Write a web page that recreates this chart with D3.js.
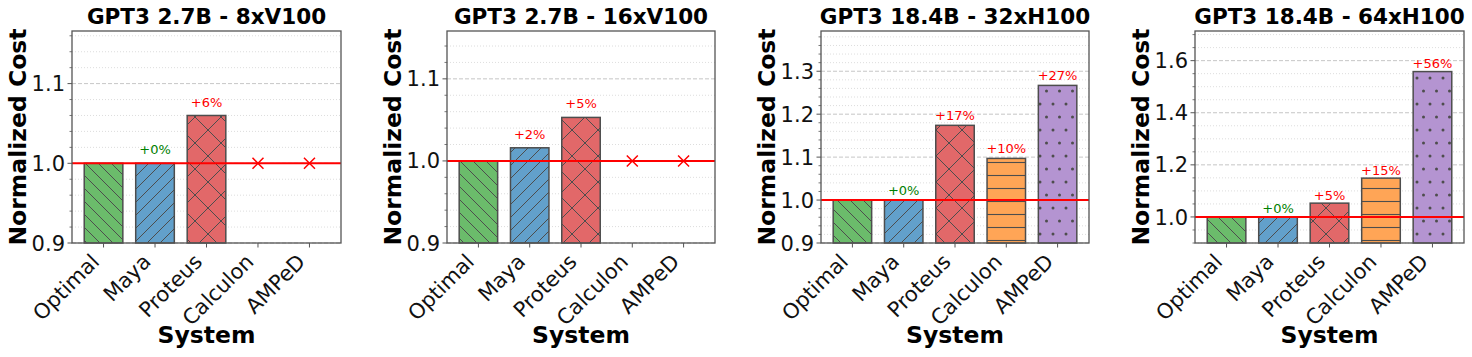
<html>
<head>
<script src="https://d3js.org/d3.v7.min.js" charset="utf-8"></script>
<style>
  body { margin: 0; background: #fff; }
  text { font-family: "DejaVu Sans", sans-serif; }
</style>
</head>
<body>
<div id="chartcontainer"></div>
<script type="text/javascript">
// data
var systems = ["Optimal", "Maya", "Proteus", "Calculon", "AMPeD"];
var titles = ["GPT3 2.7B - 8xV100", "GPT3 2.7B - 16xV100", "GPT3 18.4B - 32xH100", "GPT3 18.4B - 64xH100"];
var cost8xV100 = [1.0, 1.0, 1.06, null, null];
var cost16xV100 = [1.0, 1.016, 1.053, null, null];
var cost32xH100 = [1.0, 1.0, 1.174, 1.097, 1.267];
var cost64xH100 = [1.0, 1.0, 1.053, 1.149, 1.558];
var ticks8xV100 = [0.9, 1.0, 1.1];
var ticks16xV100 = [0.9, 1.0, 1.1];
var ticks32xH100 = [0.9, 1.0, 1.1, 1.2, 1.3];
var ticks64xH100 = [1.0, 1.2, 1.4, 1.6];
var minorStep = [0.02, 0.02, 0.02, 0.05];

var colors = ["#6bbc6b", "#62a0cb", "#e26869", "#ffa556", "#b494d1"];
var hatches = ["back", "fwd", "cross", "horiz", "dots"];

var panels = [
    {title: titles[0], values: cost8xV100, ticks: ticks8xV100, minor: minorStep[0], left: 72, right: 341},
    {title: titles[1], values: cost16xV100, ticks: ticks16xV100, minor: minorStep[1], left: 447, right: 715},
    {title: titles[2], values: cost32xH100, ticks: ticks32xH100, minor: minorStep[2], left: 821, right: 1089},
    {title: titles[3], values: cost64xH100, ticks: ticks64xH100, minor: minorStep[3], left: 1195, right: 1464}
];
var plotTop = 31, plotBottom = 243;
var edge = "#4d4d4d";

var svg = d3.select("#chartcontainer").append("svg").attr("width", 1472).attr("height", 357);
var defs = svg.append("defs");

// hatch patterns (cross hatch is twice as sparse)
var hs = 13;
function pattern(id, w, h) {
    var p = defs.append("pattern").attr("id", id).attr("patternUnits", "userSpaceOnUse")
        .attr("width", w).attr("height", h);
    return p;
}
colors.forEach(function(c, i) {
    var id = "hatch" + i;
    var p;
    if (hatches[i] == "dots") {
        p = pattern(id, hs, hs * 2);
        p.append("rect").attr("width", hs).attr("height", hs * 2).attr("fill", c);
        [[0, 0], [hs, 0], [0, hs * 2], [hs, hs * 2], [hs / 2, hs]].forEach(function(d) {
            p.append("circle").attr("cx", d[0]).attr("cy", d[1]).attr("r", 1.5).attr("fill", edge);
        });
        return;
    }
    if (hatches[i] == "horiz") {
        p = pattern(id, hs, hs);
        p.append("rect").attr("width", hs).attr("height", hs).attr("fill", c);
        p.append("line").attr("x1", 0).attr("y1", hs / 2).attr("x2", hs).attr("y2", hs / 2)
            .attr("stroke", edge).attr("stroke-width", 1.1);
        return;
    }
    var ds = hatches[i] == "cross" ? hs * 2 : hs;
    p = pattern(id, ds, ds);
    p.append("rect").attr("width", ds).attr("height", ds).attr("fill", c);
    var g = p.append("g").attr("stroke", edge).attr("stroke-width", 1);
    if (hatches[i] == "back" || hatches[i] == "cross") {
        g.append("line").attr("x1", -1).attr("y1", -1).attr("x2", ds + 1).attr("y2", ds + 1);
    }
    if (hatches[i] == "fwd" || hatches[i] == "cross") {
        g.append("line").attr("x1", -1).attr("y1", ds + 1).attr("x2", ds + 1).attr("y2", -1);
    }
});

panels.forEach(function(pn) {
    var vals = pn.values.filter(function(v) { return v != null; });
    var ymax = d3.max(vals) * 1.1;
    var y = d3.scaleLinear().domain([0.9, ymax]).range([plotBottom, plotTop]);
    var x = d3.scaleLinear().domain([-0.6125, 4.6125]).range([pn.left, pn.right]);
    var bw = x(0.75) - x(0);
    var g = svg.append("g");

    // grid
    var minorTicks = d3.range(Math.ceil(0.9 / pn.minor - 1e-6), Math.floor(ymax / pn.minor + 1e-6) + 1)
        .map(function(k) { return k * pn.minor; })
        .filter(function(v) { return !pn.ticks.some(function(t) { return Math.abs(t - v) < 1e-6; }); });
    g.selectAll(".minorgrid").data(minorTicks).enter().append("line")
        .attr("x1", pn.left).attr("x2", pn.right)
        .attr("y1", function(d) { return y(d); }).attr("y2", function(d) { return y(d); })
        .attr("stroke", "#d4d4d4").attr("stroke-width", 0.8).attr("stroke-dasharray", "1,2");
    g.selectAll(".majorgrid").data(pn.ticks).enter().append("line")
        .attr("x1", pn.left).attr("x2", pn.right)
        .attr("y1", function(d) { return y(d); }).attr("y2", function(d) { return y(d); })
        .attr("stroke", "#b8b8b8").attr("stroke-width", 0.8).attr("stroke-dasharray", "4,2");

    // bars
    systems.forEach(function(s, i) {
        var v = pn.values[i];
        if (v == null) return;
        g.append("rect")
            .attr("x", x(i) - bw / 2).attr("width", bw)
            .attr("y", y(v)).attr("height", y(0.9) - y(v))
            .attr("fill", "url(#hatch" + i + ")")
            .attr("stroke", edge).attr("stroke-width", 1.5);
    });

    // baseline at 1.0
    g.append("line").attr("x1", pn.left).attr("x2", pn.right)
        .attr("y1", y(1.0)).attr("y2", y(1.0))
        .attr("stroke", "red").attr("stroke-width", 2);

    // missing systems
    systems.forEach(function(s, i) {
        if (pn.values[i] != null) return;
        var cx = x(i), cy = y(1.0), r = 5.5;
        g.append("path")
            .attr("d", "M" + (cx - r) + "," + (cy - r) + "L" + (cx + r) + "," + (cy + r) +
                "M" + (cx - r) + "," + (cy + r) + "L" + (cx + r) + "," + (cy - r))
            .attr("stroke", "red").attr("stroke-width", 1.5).attr("fill", "none");
    });

    // percent labels
    systems.forEach(function(s, i) {
        var v = pn.values[i];
        if (v == null || i == 0) return;
        var pct = Math.round((v - 1) * 100);
        g.append("text")
            .attr("x", x(i)).attr("y", y(v + 0.01) - 1)
            .attr("text-anchor", "middle")
            .style("font-size", "13px")
            .attr("fill", pct > 0 ? "red" : "green")
            .text("+" + pct + "%");
    });

    // spines
    g.append("rect").attr("x", pn.left).attr("y", plotTop)
        .attr("width", pn.right - pn.left).attr("height", plotBottom - plotTop)
        .attr("fill", "none").attr("stroke", "#555").attr("stroke-width", 1.3);

    // y ticks
    g.selectAll(".minortick").data(minorTicks).enter().append("line")
        .attr("x1", pn.left - 2.5).attr("x2", pn.left)
        .attr("y1", function(d) { return y(d); }).attr("y2", function(d) { return y(d); })
        .attr("stroke", "#555").attr("stroke-width", 0.8);
    g.selectAll(".majortick").data(pn.ticks).enter().append("line")
        .attr("x1", pn.left - 4.5).attr("x2", pn.left)
        .attr("y1", function(d) { return y(d); }).attr("y2", function(d) { return y(d); })
        .attr("stroke", "#555").attr("stroke-width", 1);
    g.selectAll(".ylab").data(pn.ticks).enter().append("text")
        .attr("x", pn.left - 7).attr("y", function(d) { return y(d); })
        .attr("dy", "0.36em").attr("text-anchor", "end")
        .style("font-size", "21px").attr("fill", "#111")
        .text(function(d) { return d3.format(".1f")(d); });

    // x ticks
    systems.forEach(function(s, i) {
        g.append("line").attr("x1", x(i)).attr("x2", x(i))
            .attr("y1", plotBottom).attr("y2", plotBottom + 4.5)
            .attr("stroke", "#555").attr("stroke-width", 1);
        var tx = x(i) - 3, ty = plotBottom + 20;
        g.append("text")
            .attr("transform", "translate(" + tx + "," + ty + ") rotate(-45)")
            .attr("text-anchor", "end")
            .style("font-size", "21px").attr("fill", "#111")
            .text(s);
    });

    // titles
    var cx = (pn.left + pn.right) / 2;
    g.append("text").attr("x", cx).attr("y", 24).attr("text-anchor", "middle")
        .style("font-size", "21.5px").style("font-weight", "bold").text(pn.title);
    g.append("text").attr("x", cx).attr("y", 343).attr("text-anchor", "middle")
        .style("font-size", "23.5px").style("font-weight", "bold").text("System");
    g.append("text")
        .attr("transform", "translate(" + (pn.left - 46) + "," + ((plotTop + plotBottom) / 2) + ") rotate(-90)")
        .attr("text-anchor", "middle")
        .style("font-size", "23.5px").style("font-weight", "bold").text("Normalized Cost");
});
</script>
</body>
</html>
